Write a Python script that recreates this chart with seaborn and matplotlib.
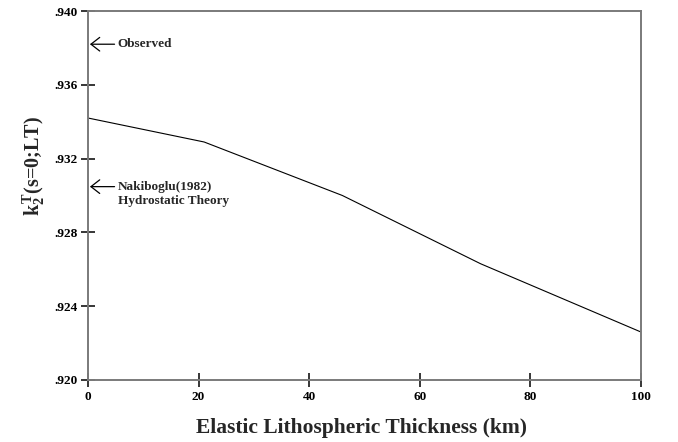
import matplotlib
matplotlib.use("Agg")
import matplotlib.pyplot as plt
import seaborn as sns
import pandas as pd

# Elastic lithospheric thickness (km) and the computed tidal Love number
thickness_km = [0, 21, 46, 71, 100]
k2_tidal = [0.9342, 0.9329, 0.9300, 0.9263, 0.9226]

x_ticks = [0, 20, 40, 60, 80, 100]
y_ticks = [0.920, 0.924, 0.928, 0.932, 0.936, 0.940]
y_tick_labels = [".920", ".924", ".928", ".932", ".936", ".940"]

observed_value = 0.9382
hydrostatic_value = 0.93048

sns.set_theme(style="ticks")
plt.rcParams["font.family"] = ["Liberation Serif", "DejaVu Serif"]
plt.rcParams["font.weight"] = "bold"
plt.rcParams["mathtext.fontset"] = "custom"
plt.rcParams["mathtext.rm"] = "Liberation Serif:bold"
plt.rcParams["mathtext.it"] = "Liberation Serif:bold"
plt.rcParams["mathtext.bf"] = "Liberation Serif:bold"

df = pd.DataFrame({"thickness": thickness_km, "k2": k2_tidal})

fig = plt.figure(figsize=(6.78, 4.42), dpi=100)
ax = fig.add_axes([0.1298, 0.1403, 0.8156, 0.8348])

sns.lineplot(data=df, x="thickness", y="k2", ax=ax, color="black", linewidth=0.8)

ax.set_xlim(0, 100)
ax.set_ylim(0.920, 0.940)
ax.set_xticks(x_ticks)
ax.set_xticklabels([str(v) for v in x_ticks])
ax.set_yticks(y_ticks)
ax.set_yticklabels(y_tick_labels)

for side in ["left", "right", "top", "bottom"]:
    ax.spines[side].set_visible(True)
    ax.spines[side].set_color("#7a7a7a")
    ax.spines[side].set_linewidth(1.4)

ax.tick_params(axis="both", direction="inout", length=10.5, width=1.1,
               color="black", labelsize=9.5, labelcolor="black")
ax.tick_params(axis="y", pad=2)
ax.tick_params(axis="x", pad=3)
for lab in ax.get_xticklabels() + ax.get_yticklabels():
    lab.set_fontweight("bold")

ax.set_xlabel("Elastic Lithospheric Thickness (km)", fontsize=15.5,
              fontweight="bold")
ax.xaxis.set_label_coords(0.4946, -0.104)
ax.set_ylabel(r"$k_2^T$(s=0;LT)", fontsize=14.5, fontweight="bold")
ax.yaxis.set_label_coords(-0.075, 0.58)

arrow_kw = dict(arrowstyle="->,head_length=0.45,head_width=0.35",
                color="black", lw=0.9, shrinkA=0, shrinkB=0, mutation_scale=14)
ax.annotate("", xy=(0.35, observed_value), xytext=(4.8, observed_value),
            arrowprops=arrow_kw)
ax.text(5.4, observed_value, "Observed", fontsize=9.5, fontweight="bold",
        va="center", ha="left")

ax.annotate("", xy=(0.35, hydrostatic_value), xytext=(4.8, hydrostatic_value),
            arrowprops=arrow_kw)
ax.text(5.4, hydrostatic_value, "Nakiboglu(1982)", fontsize=9.5,
        fontweight="bold", va="center", ha="left")
ax.annotate("Hydrostatic Theory", xy=(5.4, hydrostatic_value),
            xytext=(0, -14.3), textcoords="offset pixels", fontsize=9.5,
            fontweight="bold", va="center", ha="left")

fig.savefig("out.png", dpi=100)
